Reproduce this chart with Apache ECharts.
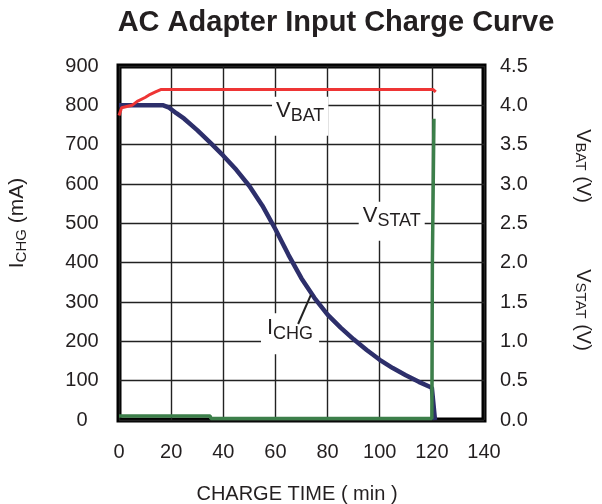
<!DOCTYPE html>
<html><head><meta charset="utf-8">
<script src="https://cdn.jsdelivr.net/npm/echarts@6/dist/echarts.min.js"></script>
<style>html,body{margin:0;padding:0;background:#fff}#c{width:602px;height:504px}</style>
</head><body><div id="c"></div>
<script>
// ---- data ----
const ichgTime   = [0, 17, 19, 22, 25, 30, 35, 40, 45, 50, 55, 60, 65, 70, 75, 80, 85, 90, 95, 100, 105, 110, 115, 120, 121.2];
const ichgValues = [800, 800, 795, 780, 766, 737, 705, 672, 636, 595, 545, 485, 420, 360, 310, 268, 235, 205, 178, 153, 132, 114, 97, 82, 0];

const vbatTime   = [0, 1, 5, 7, 10, 12, 14, 16, 120.5, 121.5];
const vbatValues = [3.87, 3.97, 4.0, 4.05, 4.10, 4.14, 4.17, 4.2, 4.2, 4.17];

const vstatTime   = [0, 35, 35.2, 120, 120.2, 120.8];
const vstatValues = [0.05, 0.05, 0.02, 0.02, 2.0, 3.83];

const title = 'AC Adapter Input Charge Curve';
const xName = 'CHARGE TIME ( min )';

const FONT = '"Liberation Sans", Arial, Helvetica, sans-serif';
const TXT = '#231f20';
const zip = (a, b) => a.map((t, i) => [t, b[i]]);

const chart = echarts.init(document.getElementById('c'), null, { renderer: 'canvas' });
const lbl = { fontSize: 20, color: TXT, fontFamily: FONT };
const split = { show: true, lineStyle: { color: '#222', width: 1.4 } };

chart.setOption({
  animation: false,
  backgroundColor: '#fff',
  grid: { left: 119, right: 118, top: 66, bottom: 84, show: true, borderWidth: 5, borderColor: '#000', backgroundColor: '#fff' },
  xAxis: { type: 'value', min: 0, max: 140, interval: 20,
    axisLine: { show: false }, axisTick: { show: false },
    axisLabel: Object.assign({ margin: 22 }, lbl), splitLine: split },
  yAxis: [
    { type: 'value', min: 0, max: 900, interval: 100, position: 'left',
      axisLine: { show: false }, axisTick: { show: false },
      axisLabel: Object.assign({ margin: 37, align: 'center' }, lbl), splitLine: split },
    { type: 'value', min: 0, max: 4.5, interval: 0.5, position: 'right',
      axisLine: { show: false }, axisTick: { show: false },
      axisLabel: Object.assign({ margin: 16, align: 'left', formatter: v => v.toFixed(1) }, lbl),
      splitLine: { show: false } }
  ],
  series: [
    { name: 'ICHG', type: 'line', yAxisIndex: 0, data: zip(ichgTime, ichgValues), showSymbol: false,
      lineStyle: { color: '#2d2f6b', width: 4.5 }, z: 3 },
    { name: 'VBAT', type: 'line', yAxisIndex: 1, data: zip(vbatTime, vbatValues), showSymbol: false,
      lineStyle: { color: '#ee3535', width: 3 }, z: 4 },
    { name: 'VSTAT', type: 'line', yAxisIndex: 1, data: zip(vstatTime, vstatValues), showSymbol: false,
      lineStyle: { color: '#3c7f4a', width: 3.5 }, z: 5 }
  ]
});

const px = (x, y) => chart.convertToPixel({ xAxisIndex: 0, yAxisIndex: 0 }, [x, y]);
function sub(main, s, big, small, l1, l2) {
  return {
    text: '{a|' + main + '}{b|' + s + '}',
    rich: {
      a: { fontSize: big, fontFamily: FONT, fill: TXT, lineHeight: l1, verticalAlign: 'top' },
      b: { fontSize: small, fontFamily: FONT, fill: TXT, lineHeight: l2 }
    }
  };
}
function inPlot(main, s, x, y, pad) {
  const p = px(x, y);
  return { type: 'text', x: p[0], y: p[1], z: 50,
    style: Object.assign({ align: 'center', verticalAlign: 'middle', backgroundColor: '#fff', padding: pad }, sub(main, s, 22, 18, 22, 33)) };
}
const lStart = px(68.7, 244), lEnd = px(73.6, 318);

chart.setOption({
  graphic: [
    { type: 'text', x: 336, y: 23, style: { text: title, font: 'bold 29px ' + FONT, fill: TXT, align: 'center', verticalAlign: 'middle' } },
    { type: 'text', x: 297, y: 494, style: { text: xName, font: '20px ' + FONT, fill: TXT, align: 'center', verticalAlign: 'middle' } },
    { type: 'text', x: 22, y: 223, rotation: Math.PI / 2,
      style: Object.assign({ align: 'center', verticalAlign: 'middle' }, (function () {
        const o = sub('I', 'CHG', 21, 15, 21, 31); o.text += '{a| (mA)}'; return o; })()) },
    { type: 'text', x: 580, y: 166, rotation: -Math.PI / 2,
      style: Object.assign({ align: 'center', verticalAlign: 'middle' }, (function () {
        const o = sub('V', 'BAT', 20, 15, 20, 26); o.text += '{a| (V)}'; return o; })()) },
    { type: 'text', x: 580, y: 310, rotation: -Math.PI / 2,
      style: Object.assign({ align: 'center', verticalAlign: 'middle' }, (function () {
        const o = sub('V', 'STAT', 20, 15, 20, 26); o.text += '{a| (V)}'; return o; })()) },
    inPlot('V', 'BAT', 69.5, 772, [3, 4]),
    inPlot('V', 'STAT', 104.6, 505, [3, 4]),
    inPlot('I', 'CHG', 65.6, 219, [4, 6]),
    { type: 'line', z: 60, shape: { x1: lStart[0], y1: lStart[1], x2: lEnd[0], y2: lEnd[1] },
      style: { stroke: '#222', lineWidth: 2 } }
  ]
});
</script>
</body></html>
